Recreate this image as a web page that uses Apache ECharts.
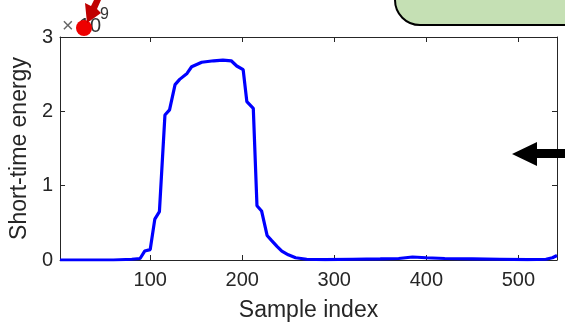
<!DOCTYPE html>
<html>
<head>
<meta charset="utf-8">
<script src="https://cdn.jsdelivr.net/npm/echarts@6/dist/echarts.min.js"></script>
<style>html,body{margin:0;padding:0;background:#fff;}#c{width:565px;height:327px;}</style>
</head>
<body>
<div id="c"></div>
<script>
// Data (energy in units of 1e9)
const sampleIndex = [2, 20, 40, 60, 80, 89, 94, 100, 105, 110, 116, 121, 127, 132, 140, 145, 156, 169, 179, 188, 194, 201, 205, 212, 216, 221, 227, 232, 238, 243, 250, 258, 270, 290, 320, 350, 370, 385, 400, 420, 450, 480, 510, 530, 537, 542];
const energy = [0, 0, 0, 0, 0.01, 0.02, 0.12, 0.14, 0.55, 0.65, 1.95, 2.02, 2.36, 2.43, 2.51, 2.6, 2.66, 2.68, 2.69, 2.68, 2.61, 2.56, 2.13, 2.04, 0.73, 0.66, 0.33, 0.26, 0.18, 0.12, 0.07, 0.03, 0.01, 0.005, 0.01, 0.015, 0.02, 0.04, 0.03, 0.02, 0.015, 0.01, 0.005, 0.01, 0.03, 0.06];
const xTicks = [100, 200, 300, 400, 500];
const yTicks = [0, 1, 2, 3];

const pts = sampleIndex.map((x, i) => [x, energy[i]]);
const font = 'Liberation Sans, Arial, sans-serif';
const axisColor = '#262626';

const chart = echarts.init(document.getElementById('c'), null, {renderer: 'canvas'});
const baseX = {
  type: 'value', min: 2, max: 542,
  axisLine: {show: true, onZero: false, lineStyle: {color: axisColor, width: 1}},
  axisTick: {show: true, inside: true, length: 5, customValues: xTicks, lineStyle: {color: axisColor}},
  splitLine: {show: false}
};
const baseY = {
  type: 'value', min: 0, max: 3, interval: 1,
  axisLine: {show: true, onZero: false, lineStyle: {color: axisColor, width: 1}},
  axisTick: {show: true, inside: true, length: 5, lineStyle: {color: axisColor}},
  splitLine: {show: false}
};
chart.setOption({
  animation: false,
  grid: {left: 60, right: 8, top: 37, bottom: 66, containLabel: false},
  xAxis: [
    Object.assign({}, baseX, {
      position: 'bottom',
      name: 'Sample index', nameLocation: 'middle', nameGap: 39,
      nameTextStyle: {fontFamily: font, fontSize: 23, color: axisColor},
      axisLabel: {show: true, customValues: xTicks, margin: 10, fontFamily: font, fontSize: 20, color: axisColor}
    }),
    Object.assign({}, baseX, {position: 'top', axisLabel: {show: false}})
  ],
  yAxis: [
    Object.assign({}, baseY, {
      position: 'left',
      name: 'Short-time energy', nameLocation: 'middle', nameGap: 23,
      nameTextStyle: {fontFamily: font, fontSize: 23, color: axisColor},
      axisLabel: {show: true, margin: 7, fontFamily: font, fontSize: 20, color: axisColor,
        customValues: yTicks}
    }),
    Object.assign({}, baseY, {position: 'right', axisLabel: {show: false}})
  ],
  series: [{
    type: 'line', data: pts, xAxisIndex: 0, yAxisIndex: 0,
    showSymbol: false, symbol: 'none',
    lineStyle: {color: '#0000ff', width: 3.2}
  }],
  graphic: [
    {type: 'rect', shape: {x: 395, y: -40, width: 220, height: 65, r: [0, 0, 0, 25]},
      style: {fill: '#c5e0b4', stroke: '#000', lineWidth: 2}, z: 10},
    {type: 'text', style: {x: 62, y: 26, text: '×', font: '20px ' + font, fill: '#666', textVerticalAlign: 'middle'}, z: 10},
    {type: 'text', style: {x: 79, y: 26, text: '10', font: '20px ' + font, fill: '#333', textVerticalAlign: 'middle'}, z: 10},
    {type: 'text', style: {x: 100, y: 15, text: '9', font: '16px ' + font, fill: '#333', textVerticalAlign: 'middle'}, z: 10},
    {type: 'circle', shape: {cx: 84, cy: 28, r: 8}, style: {fill: '#ee0000'}, z: 11},
    {type: 'polygon', shape: {points: [[87, 23], [85, 3], [91, 6], [94, 0], [101, 0], [97, 9], [101, 13]]},
      style: {fill: '#c00000'}, z: 11},
    {type: 'polygon', shape: {points: [[512, 154], [537, 142], [537, 149], [565, 149], [565, 158], [537, 158], [537, 166]]},
      style: {fill: '#000'}, z: 11}
  ]
});
</script>
</body>
</html>
